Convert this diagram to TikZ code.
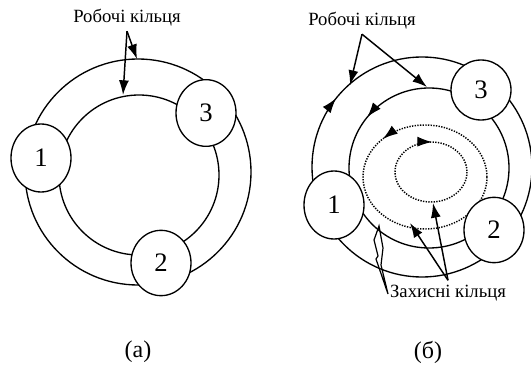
\documentclass[tikz,border=0pt]{standalone}
\usepackage{fontspec}
\setmainfont{Liberation Serif}
\usetikzlibrary{arrows.meta,shapes.geometric,decorations.markings}

\begin{document}
\begin{tikzpicture}[x=0.75pt, y=-0.75pt, >={Latex[length=11pt,width=7.5pt]},
	every node/.style={font=\fontsize{14}{16}\selectfont},
	ring/.style={line width=1pt},
	guard/.style={line width=1.1pt, dash pattern=on 1pt off 1pt},
	station/.style={draw, ellipse, line width=1pt, fill=white, minimum width=45pt, minimum height=51pt, inner sep=0pt, font=\fontsize{20}{22}\selectfont},
	pointer/.style={->, line width=1.1pt},
	cw arrow at/.style={decoration={markings, mark=at position #1 with {\arrow[line width=0.8pt]{Latex[length=11pt,width=7.5pt]}}}, postaction=decorate},
	ccw arrow at/.style={decoration={markings, mark=at position #1 with {\arrowreversed[line width=0.8pt]{Latex[length=11pt,width=7.5pt]}}}, postaction=decorate}]
	\useasboundingbox (0,0) rectangle (531,370);

	% (a) two working rings
	\draw[ring] (138,172) circle (113);
	\draw[ring] (139,175) circle (80);
	\node[station] (a1) at (41,158) {1};
	\node[station, minimum height=50pt] (a3) at (206,113) {3};
	\node[station, minimum height=49pt] (a2) at (161,263) {2};
	\node (workA) at (127,18) {Робочі кільця};
	\coordinate (aout) at (137,59);
	\coordinate (ain) at (123,95);
	\draw[pointer] (workA.south) -- (aout);
	\draw[pointer] (workA.south) -- (ain);
	\node[font=\fontsize{18}{20}\selectfont] (capA) at (138,352) {(а)};

	% (b) working rings and guard rings, opposite directions
	\draw[ring, cw arrow at=0.607] (422,167) circle (110);
	\draw[ring, ccw arrow at=0.61] (429,168) circle (80);
	\draw[guard, ccw arrow at=0.625] (425,177) ellipse (62 and 52);
	\draw[guard, cw arrow at=0.755] (431,172) ellipse (36 and 30);
	\node[station, minimum height=45pt] (b3) at (481,90) {3};
	\node[station] (b1) at (334,205) {1};
	\node[station, minimum height=49pt] (b2) at (494,230) {2};
	\node (workB) at (362,21) {Робочі кільця};
	\coordinate (bout) at (350,85);
	\coordinate (bin) at (427,87);
	\draw[pointer] (workB.south) -- (bout);
	\draw[pointer] (workB.south) -- (bin);
	\node (guardB) at (448,293) {Захисні кільця};
	\coordinate (gout) at (410,223);
	\coordinate (gin) at (433,203);
	\draw[pointer] (guardB.north) -- (gout);
	\draw[pointer] (guardB.north) -- (gin);
	% break of the cable
	\draw[line width=0.9pt] (379,226) -- (374,240) -- (378,256) -- (376,259) -- (388,294) -- (381,265) -- (383,248) -- cycle;
	\node[font=\fontsize{18}{20}\selectfont] (capB) at (428,352) {(б)};
\end{tikzpicture}
\end{document}
